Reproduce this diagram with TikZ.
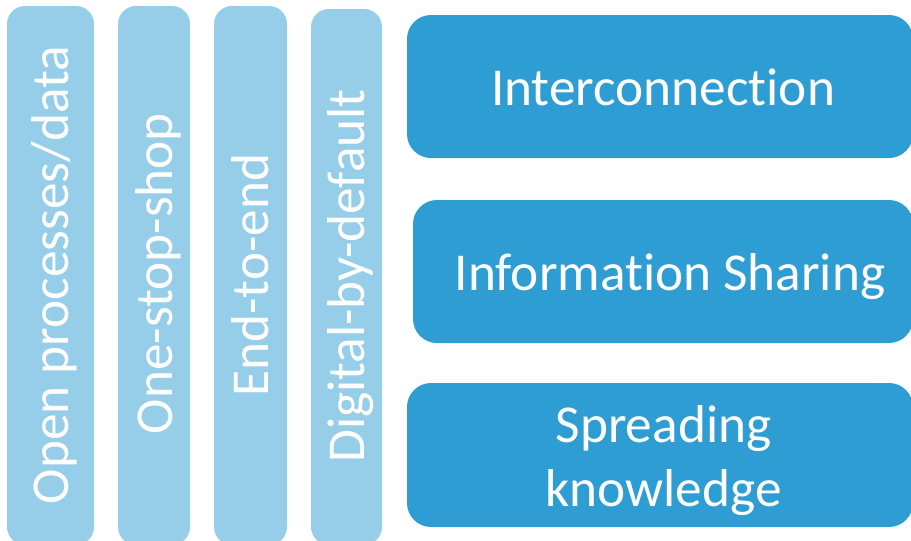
\documentclass[tikz,border=0pt]{standalone}
\usepackage{fontspec}
\setmainfont[Ligatures=NoCommon]{Carlito}
\usepackage{tikz}
\definecolor{lightblue}{RGB}{150,206,233}
\definecolor{darkblue}{RGB}{46,157,212}
\newcommand*{\bigfont}{\fontsize{53.3}{64}\selectfont}
\tikzset{%
  pillar/.style={fill=lightblue, rounded corners=18pt, inner sep=0pt},% vertical bars
  block/.style={fill=darkblue, rounded corners=24pt, inner sep=0pt},% horizontal boxes
  caption/.style={text=white, font=\bigfont, inner sep=0pt, anchor=base},% white labels
  upright/.style={caption, rotate=90}% labels in the bars
}
\begin{document}
\begin{tikzpicture}[x=1pt, y=-1pt]
\useasboundingbox (0,0) rectangle (911,541);
\clip (0,0) rectangle (911,541);
% vertical bars
\node[pillar, minimum width=87, minimum height=539] (open) at (50.5, 275.5) {};
\node[pillar, minimum width=72, minimum height=539] (stop) at (154, 275.5) {};
\node[pillar, minimum width=73, minimum height=539] (end) at (250.5, 275.5) {};
\node[pillar, minimum width=71, minimum height=536] (digital) at (346.5, 277) {};
\node[upright] (topen) at (68.5, 275) {Open processes/data};
\node[upright] (tstop) at (172, 273.5) {One-stop-shop};
\node[upright] (tend) at (268.5, 275) {End-to-end};
\node[upright] (tdigital) at (364.5, 276) {Digital-by-default};
% horizontal boxes
\node[block, minimum width=506, minimum height=143] (inter) at (660, 86.5) {};
\node[block, minimum width=500, minimum height=143] (share) at (663, 271.5) {};
\node[block, minimum width=506, minimum height=144] (spread) at (660, 455) {};
\node[caption] (tinter) at (663, 105) {Interconnection};
\node[caption] (tshare) at (670, 290) {Information Sharing};
\node[caption, align=center] (tspread) at (663.5, 506) {Spreading\\knowledge};
\end{tikzpicture}
\end{document}
